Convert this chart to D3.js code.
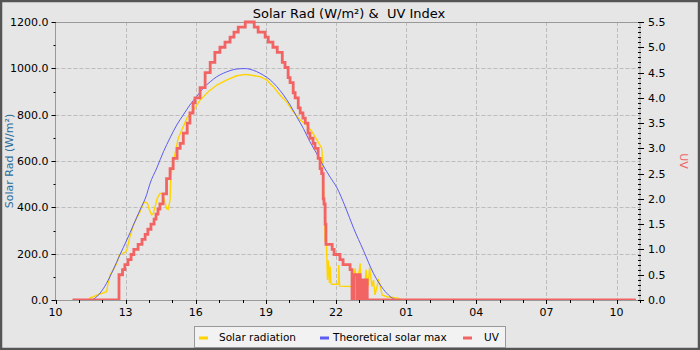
<!DOCTYPE html>
<html><head><meta charset="utf-8">
<script src="https://cdn.jsdelivr.net/npm/d3@7/dist/d3.min.js"></script>
<style>html,body{margin:0;padding:0;background:#e6e6e6;}svg{display:block;font-family:"DejaVu Sans",sans-serif;}</style>
</head><body>
<svg id="chart" width="700" height="350"></svg>
<script>
// ---------- DATA ----------
const chartTitle = "Solar Rad (W/m²) &  UV Index";
const leftAxisLabel = "Solar Rad (W/m²)";
const rightAxisLabel = "UV";
const seriesNames = ["Solar radiation", "Theoretical solar max", "UV"];
const domainStart = "10:00";
const domainEnd = "11:00"; // next day
const xTickStepHours = 3;
const leftTicks = [0, 200, 400, 600, 800, 1000, 1200];
const rightTicks = [0, 0.5, 1.0, 1.5, 2.0, 2.5, 3.0, 3.5, 4.0, 4.5, 5.0, 5.5];

const solarTimes = ["10:44","11:24","11:30","11:37","11:54","12:11","12:15","12:20","12:28","12:37","12:44","12:50","12:58","13:03","13:07","13:11","13:20","13:28","13:37","13:45","13:50","13:56","14:01","14:07","14:11","14:18","14:21","14:28","14:32","14:38","14:45","14:49","14:54","14:56","15:01","15:07","15:15","15:24","15:37","15:54","16:11","16:32","16:54","17:20","17:45","18:07","18:19","18:45","19:02","19:19","19:36","19:54","20:10","20:28","20:45","20:58","21:11","21:23","21:26","21:28","21:30","21:32","21:34","21:36","21:38","21:40","21:43","21:45","21:47","21:49","22:06","22:07","22:09","22:41","22:45","22:49","22:53","22:57","23:02","23:04","23:09","23:13","23:17","23:22","23:26","23:32","23:36","23:40","23:49","23:53","23:58","00:10","00:23","00:40","00:49","10:49"];
const solarValues = [0,0,10,14,26,36,72,108,130,158,194,201,204,216,245,273,324,353,381,417,424,417,389,367,374,418,439,460,460,439,396,391,432,532,597,633,698,734,784,820,863,899,928,950,968,974,971,964,950,921,885,853,813,777,755,727,691,655,600,480,380,250,330,200,86,170,73,144,72,68,68,151,60,58,86,137,58,101,158,43,86,43,130,58,141,58,86,22,86,65,22,14,12,7,0,0];

const maxTimes = ["10:44","11:33","11:37","11:54","12:11","12:28","12:45","13:03","13:20","13:37","13:54","14:02","14:20","14:37","14:54","15:11","15:28","15:45","16:02","16:19","16:37","16:54","17:11","17:28","17:45","18:07","18:19","18:36","18:53","19:11","19:28","19:45","20:02","20:19","20:36","20:53","21:11","21:27","21:45","22:02","22:23","22:45","23:10","23:36","00:02","00:19","00:27","00:39","10:49"];
const maxValues = [0,0,3,29,72,130,194,259,324,389,455,500,570,640,700,755,799,842,878,914,942,964,979,990,997,999,996,986,971,950,921,885,842,791,741,683,630,580,530,485,405,310,215,115,45,15,6,0,0];

const uvTimes = ["10:44","12:43","12:52","12:58","13:06","13:14","13:21","13:32","13:42","13:50","13:57","14:05","14:13","14:18","14:23","14:28","14:36","14:45","14:54","15:02","15:12","15:20","15:28","15:38","15:45","15:53","15:58","16:11","16:24","16:37","16:49","17:02","17:15","17:28","17:38","17:49","18:07","18:30","18:40","18:58","19:06","19:18","19:29","19:42","19:49","19:57","20:02","20:10","20:15","20:23","20:28","20:35","20:41","20:48","20:53","21:01","21:06","21:14","21:19","21:23","21:27","21:29","21:32","21:34","21:50","21:55","22:10","22:18","22:36","22:41","22:45","22:53","22:58","23:02","23:07","23:10","23:15","23:20","10:49"];
const uvValues = [0,0.5,0.6,0.7,0.8,0.9,1.0,1.1,1.2,1.3,1.4,1.5,1.6,1.7,1.8,1.9,2.1,2.4,2.6,2.8,3.0,3.1,3.3,3.5,3.7,3.9,4.0,4.2,4.5,4.7,4.9,5.0,5.1,5.2,5.3,5.4,5.5,5.4,5.3,5.2,5.1,5.0,4.9,4.7,4.6,4.4,4.3,4.1,4.0,3.8,3.7,3.6,3.5,3.3,3.2,3.1,3.0,2.8,2.6,2.5,2.0,1.9,1.5,1.1,1.0,0.9,0.8,0.7,0.6,0,0.5,0,0.5,0,0.4,0,0.4,0,0];

const colors = {solar:"#ffd400", max:"#5c5cf2", uv:"#f26464", leftLabel:"#2a6d9c", rightLabel:"#f26464"};

// ---------- HELPERS ----------
function parseSeries(times){
  let day = 0, prev = -1;
  return times.map(s => {
    const [h, m] = s.split(":").map(Number);
    const mins = h*60 + m;
    if (mins < prev) day++;
    prev = mins;
    return new Date(Date.UTC(2024, 5, 1 + day, h, m));
  });
}
function zip(times, values){ const t = parseSeries(times); return t.map((d,i)=>({t:d, v:values[i]})); }
const solar = zip(solarTimes, solarValues);
const tmax = zip(maxTimes, maxValues);
const uv = zip(uvTimes, uvValues);
const [ds] = parseSeries([domainStart]);
const [dh, dm] = domainEnd.split(":").map(Number);
const de = new Date(Date.UTC(2024,5,2,dh,dm));

// ---------- LAYOUT ----------
const W = 700, H = 350;
const L = 55.5, R = 640, T = 22, B = 300;
const svg = d3.select("#chart");

svg.append("rect").attr("x",1).attr("y",1).attr("width",W-2).attr("height",H-2)
  .attr("fill","#e6e6e6").attr("stroke","#555").attr("stroke-width",2.5);

const x = d3.scaleUtc().domain([ds, de]).range([L, R]);
const yL = d3.scaleLinear().domain([0,1200]).range([B, T]);
const yR = d3.scaleLinear().domain([0,5.5]).range([B, T]);

const allHours = d3.utcHour.range(ds, d3.utcHour.offset(de, 1));
const majorX = allHours.filter((d,i)=> i % xTickStepHours === 0);

// grid
const g = svg.append("g");
g.selectAll(".vg").data(majorX.filter(d=>+d!==+ds)).join("line")
  .attr("x1",d=>Math.round(x(d))+0.5).attr("x2",d=>Math.round(x(d))+0.5).attr("y1",T).attr("y2",B)
  .attr("stroke","#bdbdbd").attr("stroke-dasharray","4,2");
g.selectAll(".hg").data(leftTicks.filter(v=>v>0&&v<1200)).join("line")
  .attr("x1",L).attr("x2",R).attr("y1",d=>Math.round(yL(d))+0.5).attr("y2",d=>Math.round(yL(d))+0.5)
  .attr("stroke","#bdbdbd").attr("stroke-dasharray","4,2");

// plot frame
svg.append("rect").attr("x",L).attr("y",T+0.5).attr("width",R-L).attr("height",B-T)
  .attr("fill","none").attr("stroke","#999").attr("stroke-width",1);

// clip
svg.append("clipPath").attr("id","clip").append("rect").attr("x",L).attr("y",T-2).attr("width",R-L).attr("height",B-T+2);
const plot = svg.append("g").attr("clip-path","url(#clip)");

const lineSolar = d3.line().x(d=>x(d.t)).y(d=>yL(d.v));
const lineMax = d3.line().x(d=>x(d.t)).y(d=>yL(d.v)).curve(d3.curveMonotoneX);
const lineUV = d3.line().x(d=>x(d.t)).y(d=>yR(d.v)).curve(d3.curveStepAfter);

plot.append("path").datum(solar).attr("d",lineSolar).attr("fill","none").attr("stroke",colors.solar).attr("stroke-width",1.4);
plot.append("path").datum(tmax).attr("d",lineMax).attr("fill","none").attr("stroke",colors.max).attr("stroke-width",1);
plot.append("path").datum(uv).attr("d",lineUV).attr("fill","none").attr("stroke",colors.uv).attr("stroke-width",2.8);

// axes
const tickFont = "11px";
const xa = svg.append("g");
xa.selectAll(".xmin").data(allHours.filter(d=>d<=de)).join("line")
  .attr("x1",d=>Math.round(x(d))+0.5).attr("x2",d=>Math.round(x(d))+0.5).attr("y1",B).attr("y2",B+3).attr("stroke","#000");
xa.selectAll(".xmaj").data(majorX).join("line")
  .attr("x1",d=>Math.round(x(d))+0.5).attr("x2",d=>Math.round(x(d))+0.5).attr("y1",B).attr("y2",B+4).attr("stroke","#000");
xa.selectAll(".xl").data(majorX).join("text")
  .attr("x",d=>x(d)).attr("y",B+16).attr("text-anchor","middle").attr("font-size",tickFont).attr("fill","#000")
  .text(d3.utcFormat("%H"));

// left axis
const la = svg.append("g");
la.selectAll(".lmin").data(d3.range(0,1201,100)).join("line")
  .attr("x1",L-2).attr("x2",L).attr("y1",d=>Math.round(yL(d))+0.5).attr("y2",d=>Math.round(yL(d))+0.5).attr("stroke","#000");
la.selectAll(".lmaj").data(leftTicks).join("line")
  .attr("x1",L-4).attr("x2",L).attr("y1",d=>Math.round(yL(d))+0.5).attr("y2",d=>Math.round(yL(d))+0.5).attr("stroke","#000");
la.selectAll(".ll").data(leftTicks).join("text")
  .attr("x",L-7).attr("y",d=>yL(d)+4).attr("text-anchor","end").attr("font-size",tickFont).attr("fill","#000")
  .text(d=>d.toFixed(1));
svg.append("text").attr("transform",`translate(13,${(T+B)/2}) rotate(-90)`).attr("text-anchor","middle")
  .attr("font-size","11px").attr("fill",colors.leftLabel).text(leftAxisLabel);

// right axis
const ra = svg.append("g");
ra.selectAll(".rmin").data(d3.range(0,56).map(i=>i/10)).join("line")
  .attr("x1",R-2).attr("x2",R+1).attr("y1",d=>Math.round(yR(d))+0.5).attr("y2",d=>Math.round(yR(d))+0.5).attr("stroke","#000");
ra.selectAll(".rmaj").data(rightTicks).join("line")
  .attr("x1",R).attr("x2",R+4).attr("y1",d=>Math.round(yR(d))+0.5).attr("y2",d=>Math.round(yR(d))+0.5).attr("stroke","#000");
ra.selectAll(".rl").data(rightTicks).join("text")
  .attr("x",R+8).attr("y",d=>yR(d)+4).attr("text-anchor","start").attr("font-size",tickFont).attr("fill","#000")
  .text(d=>d.toFixed(1));
svg.append("text").attr("transform",`translate(680,${(T+B)/2}) rotate(90)`).attr("text-anchor","middle")
  .attr("font-size","11px").attr("fill",colors.rightLabel).text(rightAxisLabel);

// title
svg.append("text").attr("x",349).attr("y",18).attr("text-anchor","middle").attr("font-size","13px").attr("fill","#000")
  .style("white-space","pre").text(chartTitle);

// legend
const lg = svg.append("g");
lg.append("rect").attr("x",194.5).attr("y",326.5).attr("width",311).attr("height",21).attr("fill","#f2f2f2").attr("stroke","#999");
const items = [
  {name:seriesNames[0], c:colors.solar, mx:199, tx:219},
  {name:seriesNames[1], c:colors.max, mx:320, tx:333},
  {name:seriesNames[2], c:colors.uv, mx:463, tx:484}
];
items.forEach(it=>{
  lg.append("line").attr("x1",it.mx).attr("x2",it.mx+9).attr("y1",338).attr("y2",338).attr("stroke",it.c).attr("stroke-width",3);
  lg.append("text").attr("x",it.tx).attr("y",341).attr("font-size","10.5px").attr("fill","#000").text(it.name);
});
</script>
</body></html>
